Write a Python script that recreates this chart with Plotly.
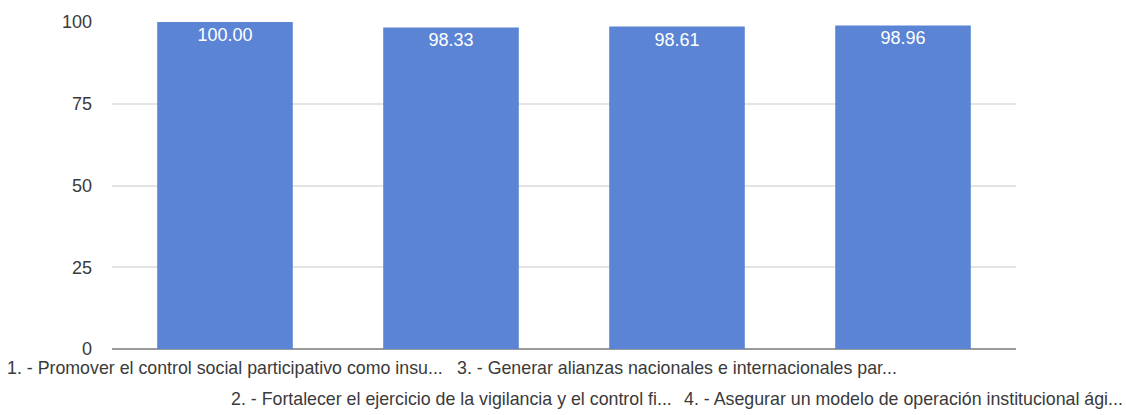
import plotly.graph_objects as go

categories = [
    "1. - Promover el control social participativo como insu...",
    "2. - Fortalecer el ejercicio de la vigilancia y el control fi...",
    "3. - Generar alianzas nacionales e internacionales par...",
    "4. - Asegurar un modelo de operación institucional ági...",
]
values = [100.00, 98.33, 98.61, 98.96]
y_ticks = [0, 25, 50, 75, 100]

FONT = "Liberation Sans, Arial, sans-serif"
BAR_COLOR = "#5b84d5"
TEXT_COLOR = "#3a3a3a"

fig = go.Figure(
    go.Bar(
        x=list(range(len(categories))),
        y=values,
        marker=dict(color=BAR_COLOR, line=dict(width=0)),
        text=[f"{v:.2f}" for v in values],
        textposition="inside",
        insidetextanchor="end",
        textfont=dict(family=FONT, size=18, color="white"),
        cliponaxis=False,
        hoverinfo="skip",
    )
)

# Category labels staggered on two rows under the bars
for i, name in enumerate(categories):
    row = i % 2
    fig.add_annotation(
        x=i, y=0, xref="x", yref="y",
        text=name, showarrow=False,
        xanchor="center", yanchor="middle",
        yshift=-19 - row * 31,
        font=dict(family=FONT, size=17.8, color=TEXT_COLOR),
    )

fig.update_layout(
    width=1126, height=415,
    margin=dict(l=112, r=110, t=20, b=66),
    paper_bgcolor="white", plot_bgcolor="white",
    bargap=0.4,
    showlegend=False,
    xaxis=dict(
        range=[-0.5, len(categories) - 0.5],
        showticklabels=False, showgrid=False, zeroline=False,
        showline=False, ticks="",
    ),
    yaxis=dict(
        range=[0, 100], tickvals=y_ticks, ticktext=[str(t) for t in y_ticks],
        showgrid=True, gridcolor="#e4e4e4", gridwidth=2,
        zeroline=True, zerolinecolor="#9a9a9a", zerolinewidth=2,
        ticks="", ticklabelstandoff=19,
        tickfont=dict(family=FONT, size=18, color=TEXT_COLOR),
    ),
)

fig.write_html("out.html")
